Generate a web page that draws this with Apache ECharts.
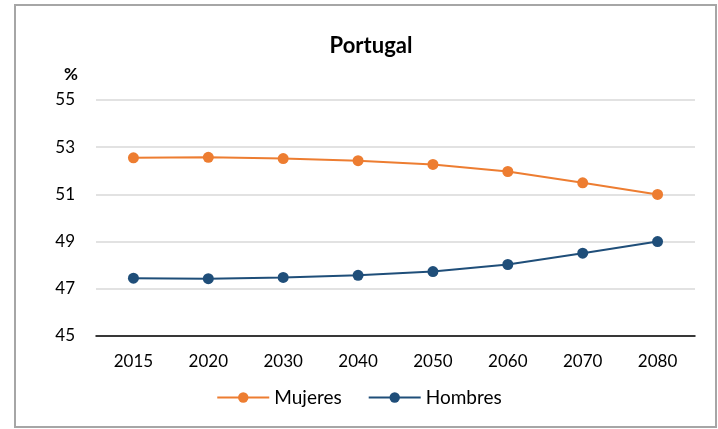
<!DOCTYPE html>
<html>
<head>
<meta charset="utf-8">
<script src="https://cdn.jsdelivr.net/npm/echarts@6/dist/echarts.min.js"></script>
<style>
  html, body { margin: 0; padding: 0; background: #fff; }
  #chart { width: 718px; height: 429px; }
</style>
</head>
<body>
<div id="chart"></div>
<script>
const years = ['2015', '2020', '2030', '2040', '2050', '2060', '2070', '2080']
const mujeres = [52.55, 52.57, 52.52, 52.43, 52.27, 51.97, 51.49, 51.0]
const hombres = [47.45, 47.43, 47.48, 47.57, 47.73, 48.03, 48.51, 49.0]
const yTicks = { min: 45, max: 55, interval: 2 }

const font = 'Lato, "Open Sans", sans-serif'
const orange = '#ed7d31'
const blue = '#1f4e79'

const chart = echarts.init(document.getElementById('chart'))

chart.setOption({
  backgroundColor: '#fff',
  animation: false,
  textStyle: { fontFamily: font },
  title: [
    {
      text: 'Portugal',
      left: 366, top: 30, textAlign: 'center',
      textStyle: { fontSize: 22, fontWeight: 'bold', color: '#000', fontFamily: font }
    },
    {
      text: '%',
      left: 66, top: 61, textAlign: 'center',
      textStyle: { fontSize: 17, fontWeight: 'bold', color: '#000', fontFamily: font }
    }
  ],
  graphic: [{
    type: 'rect',
    shape: { x: 15, y: 5, width: 701, height: 422 },
    style: { fill: 'none', stroke: '#a6a6a6', lineWidth: 2 },
    silent: true
  }],
  legend: {
    bottom: 17,
    left: 'center',
    itemWidth: 52,
    itemHeight: 13,
    itemGap: 26,
    textStyle: { fontSize: 19, color: '#000', fontFamily: font },
    data: ['Mujeres', 'Hombres']
  },
  grid: { left: 96, right: 23, top: 100, bottom: 93 },
  xAxis: [
    {
      type: 'category',
      data: years,
      boundaryGap: true,
      axisLine: { lineStyle: { color: '#000', width: 1.5 } },
      axisTick: { alignWithLabel: true, length: 5, lineStyle: { color: '#000', width: 1.5 } },
      axisLabel: { color: '#000', fontSize: 17, margin: 17, fontFamily: font }
    },
    {
      type: 'category',
      data: years,
      position: 'bottom',
      boundaryGap: true,
      axisLine: { show: false },
      axisTick: { inside: true, alignWithLabel: true, length: 5, lineStyle: { color: '#000', width: 1.5 } },
      axisLabel: { show: false }
    }
  ],
  yAxis: {
    type: 'value',
    min: yTicks.min,
    max: yTicks.max,
    interval: yTicks.interval,
    axisLine: { show: false },
    axisTick: { show: false },
    axisLabel: { color: '#000', fontSize: 17, margin: 21, fontFamily: font },
    splitLine: { lineStyle: { color: '#d9d9d9', width: 1.5 } }
  },
  series: [
    {
      name: 'Mujeres',
      type: 'line',
      data: mujeres,
      symbol: 'circle',
      symbolSize: 11,
      color: orange,
      lineStyle: { color: orange, width: 2 },
      itemStyle: { color: orange }
    },
    {
      name: 'Hombres',
      type: 'line',
      data: hombres,
      symbol: 'circle',
      symbolSize: 11,
      color: blue,
      lineStyle: { color: blue, width: 2 },
      itemStyle: { color: blue }
    }
  ]
})
</script>
</body>
</html>
